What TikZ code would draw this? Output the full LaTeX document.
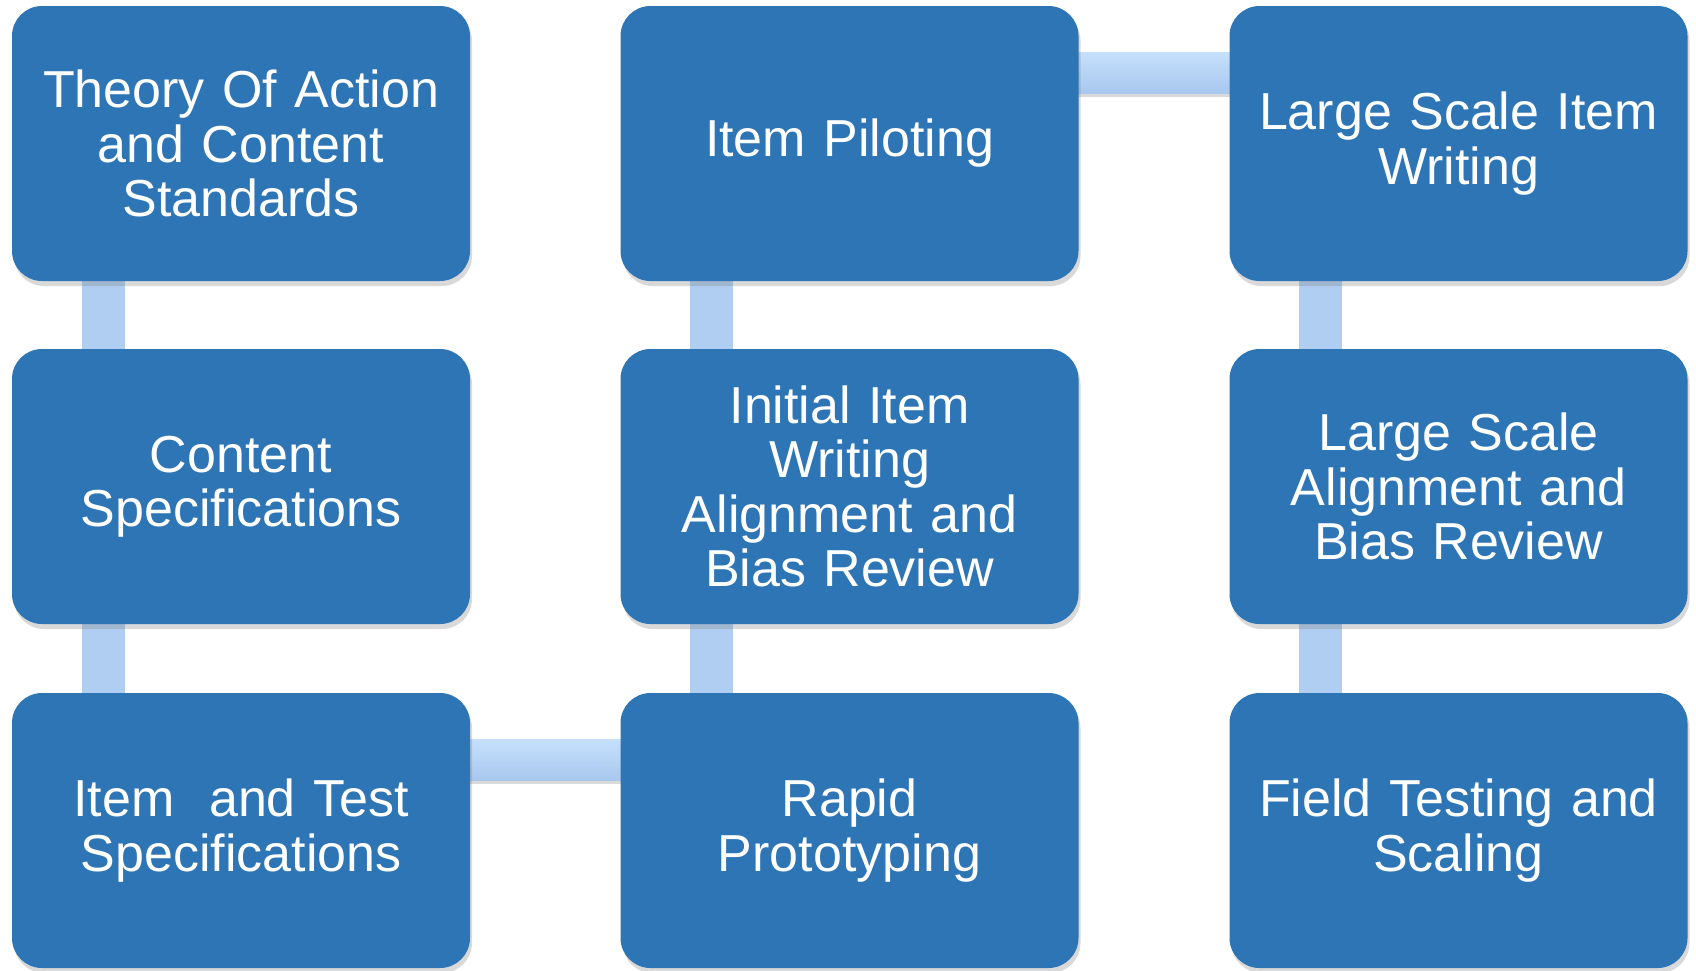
\documentclass[tikz,border=0pt]{standalone}
\usepackage{fontspec}
\setmainfont{Liberation Sans}
\usetikzlibrary{calc}
\usetikzlibrary{shadows}
\usetikzlibrary{backgrounds}
\definecolor{stageblue}{RGB}{46,117,182}
\definecolor{linktop}{RGB}{197,224,252}
\definecolor{linkbot}{RGB}{168,199,238}
\definecolor{linkflat}{RGB}{176,206,242}

\begin{document}
\begin{tikzpicture}[x=0.5pt,y=-0.5pt,
  stage/.style={fill=stageblue, rounded corners=15pt, minimum width=229pt,
    minimum height=137.5pt, text width=222pt, align=center, inner sep=0pt,
    text=white, font=\fontsize{26}{27.25}\selectfont,
    drop shadow={shadow xshift=1pt, shadow yshift=-2.5pt, opacity=0.3}},
  vlink/.style={fill=linkflat},
  hlink/.style={top color=linktop, bottom color=linkbot,
    drop shadow={shadow xshift=0pt, shadow yshift=-1.5pt, opacity=0.3}}]
\useasboundingbox (0,0) rectangle (1696,970);
% first column
\node[stage] (theory) at (241,143.5) {Theory Of Action\\ and Content\\ Standards};
\node[stage] (content) at (241,486.5) {Content\\ Specifications};
\node[stage] (itemtest) at (241,830.5) {Item\ \ and Test\\ Specifications};
% second column
\node[stage] (piloting) at (849.5,143.5) {Item Piloting};
\node[stage] (initial) at (849.5,486.5) {Initial Item\\ Writing\\ Alignment and\\ Bias Review};
\node[stage] (rapid) at (849.5,830.5) {Rapid\\ Prototyping};
% third column
\node[stage] (lsitem) at (1458.5,143.5) {Large Scale Item\\ Writing};
\node[stage] (lsalign) at (1458.5,486.5) {Large Scale\\ Alignment and\\ Bias Review};
\node[stage] (field) at (1458.5,830.5) {Field Testing and\\ Scaling};
% the links, behind the boxes
\begin{pgfonlayer}{background}
%     vertical links
\path[vlink] ($(theory.south west)+(70,0)$) rectangle ($(content.north west)+(113,0)$);
\path[vlink] ($(content.south west)+(70,0)$) rectangle ($(itemtest.north west)+(113,0)$);
\path[vlink] ($(piloting.south west)+(70,0)$) rectangle ($(initial.north west)+(113,0)$);
\path[vlink] ($(initial.south west)+(70,0)$) rectangle ($(rapid.north west)+(113,0)$);
\path[vlink] ($(lsitem.south west)+(70,0)$) rectangle ($(lsalign.north west)+(113,0)$);
\path[vlink] ($(lsalign.south west)+(70,0)$) rectangle ($(field.north west)+(113,0)$);
%     horizontal links
\path[hlink] ($(itemtest.north east)+(-2,47)$) rectangle ($(rapid.north west)+(2,88)$);
\path[hlink] ($(piloting.north east)+(-2,47)$) rectangle ($(lsitem.north west)+(2,88)$);
\end{pgfonlayer}
\end{tikzpicture}
\end{document}
